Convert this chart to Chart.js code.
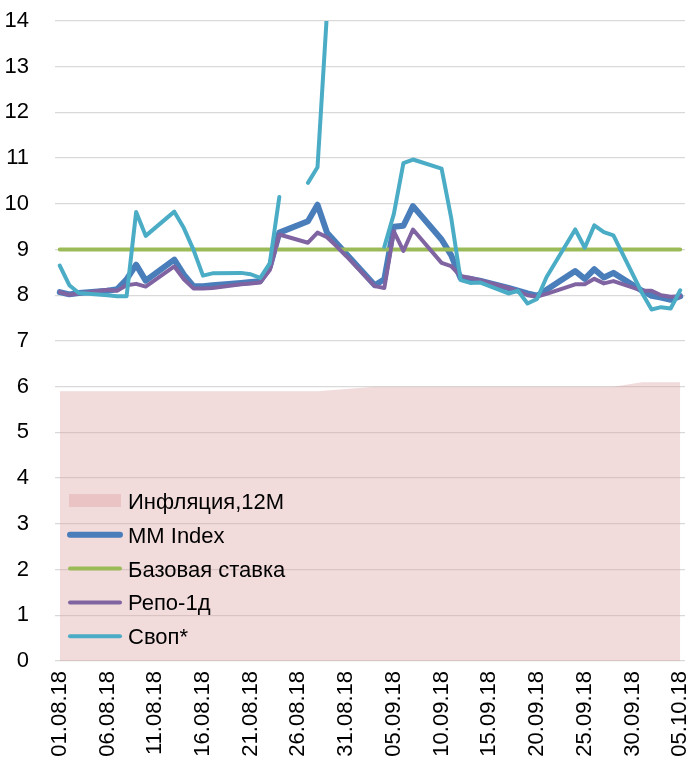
<!DOCTYPE html>
<html><head><meta charset="utf-8">
<script src="https://cdn.jsdelivr.net/npm/chart.js@4.4.1/dist/chart.umd.min.js"></script>
<style>html,body{margin:0;padding:0;background:#fff}#wrap{width:693px;height:765px;position:relative}</style>
</head><body><div id="wrap"><canvas id="c"></canvas></div>
<script>
// ---- data ----
const dates = ['01.08.18','02.08.18','03.08.18','06.08.18','07.08.18','08.08.18','09.08.18','10.08.18',
  '13.08.18','14.08.18','15.08.18','16.08.18','17.08.18','20.08.18','21.08.18','22.08.18','23.08.18','24.08.18','25.08.18',
  '27.08.18','28.08.18','29.08.18','30.08.18','31.08.18',
  '03.09.18','04.09.18','05.09.18','06.09.18','07.09.18','10.09.18','11.09.18','12.09.18','13.09.18','14.09.18',
  '17.09.18','18.09.18','19.09.18','20.09.18','21.09.18','24.09.18','25.09.18','26.09.18','27.09.18','28.09.18',
  '01.10.18','02.10.18','03.10.18','04.10.18','05.10.18'];
const tickLabels = ['01.08.18','06.08.18','11.08.18','16.08.18','21.08.18','26.08.18','31.08.18',
  '05.09.18','10.09.18','15.09.18','20.09.18','25.09.18','30.09.18','05.10.18'];
const seriesNames = ['Инфляция,12М','MM Index','Базовая ставка','Репо-1д','Своп*'];
const inflation = [5.9,5.9,5.9,5.9,5.9,5.9,5.9,5.9, 5.9,5.9,5.9,5.9,5.9,5.9,5.9,5.9,5.9,5.9,null,
  5.9,5.9,null,null,null,
  6.0,6.0,6.0,6.0,6.0,6.0,6.0,6.0,6.0,6.0, 6.0,6.0,6.0,6.0,6.0,6.0,6.0,6.0,6.0,6.0,
  6.1,6.1,6.1,6.1,6.1];
const mmIndex = [8.07,8.02,8.05,8.10,8.13,8.35,8.67,8.32, 8.78,8.45,8.20,8.20,8.22,8.27,8.29,8.31,8.62,9.37,null,
  9.62,9.98,9.37,9.14,8.91,
  8.22,8.35,9.50,9.52,9.95,9.22,8.88,8.37,8.36,8.32, 8.16,8.10,8.04,7.99,8.12,8.53,8.36,8.57,8.39,8.49,
  8.10,7.99,7.95,7.90,7.98];
const baseRate = [9,9,9,9,9,9,9,9, 9,9,9,9,9,9,9,9,9,9,null,
  9,9,9,9,9,
  9,9,9,9,9,9,9,9,9,9, 9,9,9,9,9,9,9,9,9,9,
  9,9,9,9,9];
const repo1d = [8.07,8.01,8.04,8.12,8.10,8.22,8.25,8.19, 8.63,8.35,8.15,8.15,8.16,8.24,8.26,8.28,8.55,9.33,null,
  9.15,9.37,9.27,9.07,8.86,
  8.20,8.16,9.40,8.97,9.44,8.71,8.64,8.42,8.38,8.33, 8.16,8.09,8.00,7.97,8.03,8.24,8.24,8.36,8.26,8.31,
  8.10,8.10,8.00,7.97,7.98];
const swap = [8.65,8.22,8.05,8.00,7.98,7.98,9.82,9.30, 9.83,9.47,9.00,8.43,8.48,8.49,8.46,8.38,8.70,10.15,null,
  10.46,10.80,14.2,null,null,
  null,9.06,9.78,10.89,10.97,10.77,9.70,8.33,8.27,8.28, 8.04,8.10,7.82,7.92,8.40,9.44,9.04,9.53,9.38,9.31,
  8.05,7.69,7.74,7.71,8.11];

// ---- helpers ----
const dayOf = s => { const [d,m,y] = s.split('.').map(Number);
  return Math.round((Date.UTC(2000+y, m-1, d) - Date.UTC(2018,7,1)) / 864e5); };
const pts = arr => dates.map((s,i) => ({x: dayOf(s), y: arr[i]}));
const tickDays = tickLabels.map(dayOf);
const labelByDay = {}; tickLabels.forEach(l => labelByDay[dayOf(l)] = l);

const FONT = "'Liberation Sans', Arial, sans-serif";
Chart.defaults.font.family = FONT;
Chart.defaults.font.size = 22;
Chart.defaults.color = '#000';

const legendPlugin = {
  id: 'insideLegend',
  afterDatasetsDraw(chart) {
    const ctx = chart.ctx;
    ctx.save();
    ctx.font = '22px ' + FONT;
    chart.data.datasets.forEach((d, i) => {
      const y = 501 + i * 33.8;
      if (d.fill) {
        ctx.fillStyle = d.backgroundColor;
        ctx.fillRect(69, y - 7, 52, 13);
      } else {
        ctx.strokeStyle = d.borderColor;
        ctx.lineWidth = d.borderWidth;
        ctx.lineCap = 'round';
        ctx.beginPath(); ctx.moveTo(70, y); ctx.lineTo(120, y); ctx.stroke();
      }
      ctx.fillStyle = '#000';
      ctx.textBaseline = 'alphabetic';
      ctx.textAlign = 'left';
      ctx.fillText(d.label, 128, y + 8);
    });
    ctx.restore();
  }
};

const lineDs = (label, arr, color, width, order, span) => ({
  label, data: pts(arr), borderColor: color, backgroundColor: color, borderWidth: width,
  pointRadius: 0, fill: false, spanGaps: span, order,
  borderCapStyle: 'round', borderJoinStyle: 'round', tension: 0
});

new Chart(document.getElementById('c'), {
  type: 'line',
  data: {
    datasets: [
      { label: seriesNames[0], data: pts(inflation), fill: 'origin',
        backgroundColor: 'rgba(222,160,160,0.38)', borderWidth: 0, borderColor: 'rgba(0,0,0,0)',
        pointRadius: 0, spanGaps: true, order: 5, tension: 0 },
      lineDs(seriesNames[1], mmIndex, '#4A7EBB', 6, 4, true),
      lineDs(seriesNames[2], baseRate, '#9BBB59', 4, 3, true),
      lineDs(seriesNames[3], repo1d, '#8064A2', 4, 2, true),
      lineDs(seriesNames[4], swap, '#4BACC6', 4, 1, false)
    ]
  },
  options: {
    responsive: true, maintainAspectRatio: false, animation: false,
    layout: { padding: { left: 0, right: 8, top: 21, bottom: 0 } },
    plugins: { legend: { display: false }, tooltip: { enabled: false } },
    scales: {
      x: {
        type: 'linear', min: -0.5, max: 65.5,
        grid: { display: false, drawTicks: false },
        border: { display: false },
        afterBuildTicks: axis => { axis.ticks = tickDays.map(v => ({ value: v })); },
        afterFit: axis => { axis.height = 104; axis.paddingLeft = 0; axis.paddingRight = 0; },
        ticks: { autoSkip: false, minRotation: 90, maxRotation: 90, padding: 10,
          callback: v => labelByDay[v] || '' }
      },
      y: {
        min: 0, max: 14,
        grid: { color: '#D9D9D9', lineWidth: 1.3, drawTicks: false },
        border: { display: false },
        afterFit: axis => { axis.width = 55; axis.paddingTop = 0; axis.paddingBottom = 0; },
        ticks: { stepSize: 1, padding: 26 }
      }
    }
  },
  plugins: [legendPlugin]
});
</script></body></html>
